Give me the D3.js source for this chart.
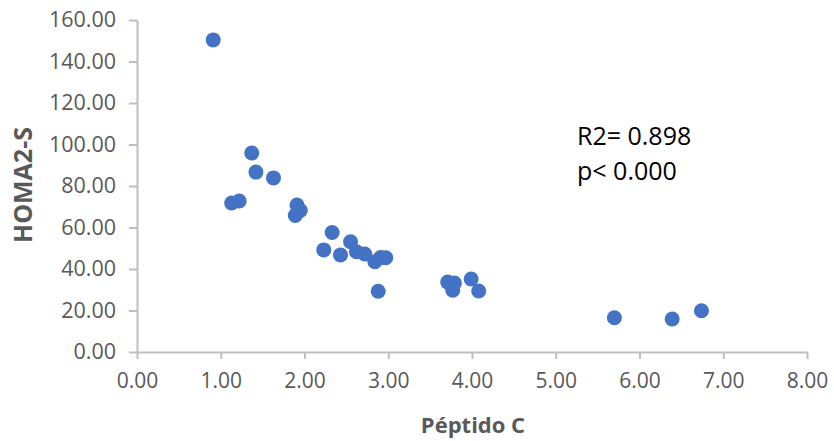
<!DOCTYPE html>
<html>
<head>
<meta charset="utf-8">
<script src="https://cdn.jsdelivr.net/npm/d3@7"></script>
<style>
  body { margin: 0; background: #fff; }
  .tick text { font-family: "Open Sans", sans-serif; fill: #595959; }
  .axisTitle { font-family: "Open Sans", sans-serif; font-weight: bold; fill: #595959; }
  .note { font-family: "Open Sans", sans-serif; fill: #000; }
</style>
</head>
<body>
<div class="chart"></div>
<script>
var svgWidth = 834;
var svgHeight = 441;

var margin = { top: 20, right: 27, bottom: 89, left: 137 };
var width = svgWidth - margin.left - margin.right;
var height = svgHeight - margin.top - margin.bottom;

// data
var peptidoC = [0.91, 1.37, 1.42, 1.63, 1.13, 1.22, 1.91, 1.95, 1.89, 2.33, 2.23, 2.43,
  2.55, 2.62, 2.72, 2.84, 2.91, 2.97, 2.88, 3.71, 3.79, 3.77, 3.99, 4.08, 5.70, 6.39, 6.74];
var homa2s = [150.4, 95.9, 86.7, 83.9, 71.8, 72.8, 70.8, 68.2, 65.8, 57.6, 49.2, 46.8,
  53.1, 48.3, 47.2, 43.5, 45.5, 45.4, 29.3, 33.7, 33.2, 29.8, 35.2, 29.4, 16.5, 15.9, 19.9];
var xTicks = [0, 1, 2, 3, 4, 5, 6, 7, 8];
var yTicks = [0, 20, 40, 60, 80, 100, 120, 140, 160];
var noteLines = ["R2= 0.898", "p< 0.000"];

var points = peptidoC.map(function(d, i) { return { x: d, y: homa2s[i] }; });

var svg = d3.select(".chart")
  .append("svg")
  .attr("width", svgWidth)
  .attr("height", svgHeight);

var chartGroup = svg.append("g")
  .attr("transform", `translate(${margin.left}, ${margin.top})`);

var xLinearScale = d3.scaleLinear().domain([0, 8]).range([0, width]);
var yLinearScale = d3.scaleLinear().domain([0, 160]).range([height, 0]);

var bottomAxis = d3.axisBottom(xLinearScale)
  .tickValues(xTicks).tickFormat(d3.format(".2f")).tickSizeInner(7).tickSizeOuter(0).tickPadding(14);
var leftAxis = d3.axisLeft(yLinearScale)
  .tickValues(yTicks).tickFormat(d3.format(".2f")).tickSizeInner(8).tickSizeOuter(0).tickPadding(13);

var xAxisG = chartGroup.append("g")
  .attr("transform", `translate(0, ${height})`)
  .call(bottomAxis);
var yAxisG = chartGroup.append("g").call(leftAxis);

[xAxisG, yAxisG].forEach(function(g) {
  g.selectAll("path, line").attr("stroke", "#BFBFBF").attr("stroke-width", 2);
  g.selectAll("text").style("font-size", "21px");
});
yAxisG.selectAll("text").style("font-size", "21.5px");

// circles
chartGroup.selectAll("circle")
  .data(points)
  .enter()
  .append("circle")
  .attr("cx", d => xLinearScale(d.x))
  .attr("cy", d => yLinearScale(d.y))
  .attr("r", 7.5)
  .attr("fill", "#4472C4");

// axis titles
chartGroup.append("text")
  .attr("class", "axisTitle")
  .attr("transform", `translate(${32 - margin.left}, ${185 - margin.top}) rotate(-90)`)
  .attr("text-anchor", "middle")
  .style("font-size", "25px")
  .text("HOMA2-S");

chartGroup.append("text")
  .attr("class", "axisTitle")
  .attr("x", 473 - margin.left)
  .attr("y", 433 - margin.top)
  .attr("text-anchor", "middle")
  .style("font-size", "22px")
  .text("Péptido C");

// R2 note
chartGroup.selectAll(".note")
  .data(noteLines)
  .enter()
  .append("text")
  .attr("class", "note")
  .attr("x", 577 - margin.left)
  .attr("y", (d, i) => 145 - margin.top + i * 35)
  .style("font-size", "25px")
  .text(d => d);
</script>
</body>
</html>
